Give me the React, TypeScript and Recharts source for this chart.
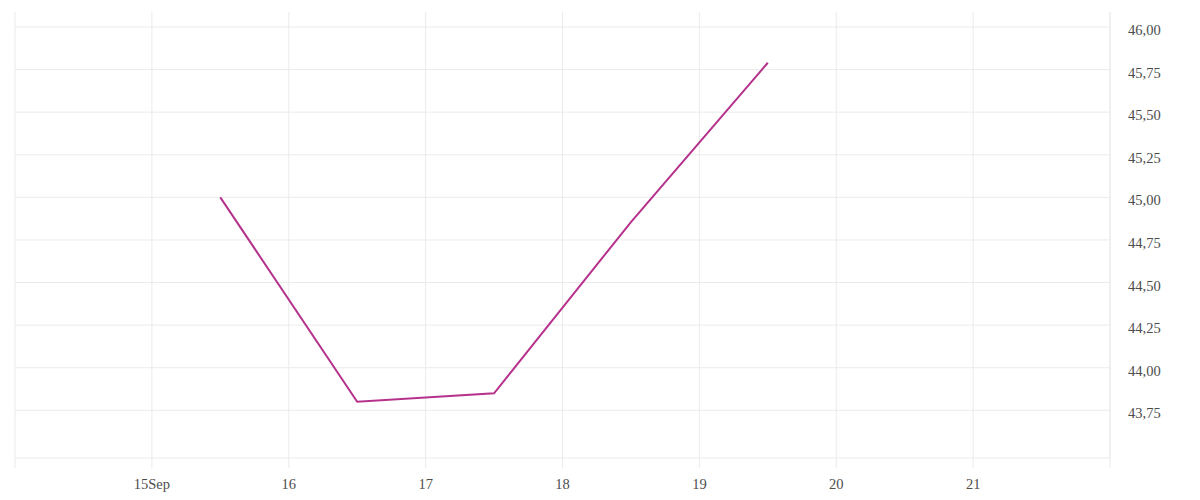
import React from 'react';
import { LineChart, Line, XAxis, YAxis, CartesianGrid, ReferenceLine } from 'recharts';

const days = [15.5, 16.5, 17.5, 18.5, 19.5];
const values = [45.0, 43.8, 43.85, 44.855, 45.79];
const xTicks = [14, 15, 16, 17, 18, 19, 20, 21, 22];
const xTickLabels: Record<number, string> = { 15: '15Sep', 16: '16', 17: '17', 18: '18', 19: '19', 20: '20', 21: '21' };
const yTicks = [43.75, 44.0, 44.25, 44.5, 44.75, 45.0, 45.25, 45.5, 45.75, 46.0];

const data = days.map((d, i) => ({ day: d, value: values[i] }));

const tickStyle = { fontFamily: '"Liberation Serif", serif', fontSize: 14.5, fill: '#4d4d4d' };

export default function App() {
  return (
    <LineChart width={1184} height={484} data={data} margin={{ top: 4, left: 7, right: 0, bottom: 0 }}>
      <CartesianGrid stroke="#ebebeb" strokeWidth={1} horizontal={false} verticalValues={xTicks} />
      {yTicks.map((t) => (
        <ReferenceLine key={t} y={t} stroke="#ebebeb" strokeWidth={1} />
      ))}
      <XAxis
        dataKey="day"
        type="number"
        domain={[14, 22]}
        ticks={xTicks}
        allowDataOverflow
        tickFormatter={(v: number) => xTickLabels[v] ?? ''}
        height={34}
        tickSize={10}
        tickMargin={11}
        axisLine={{ stroke: '#ebebeb' }}
        tickLine={{ stroke: '#ebebeb' }}
        tick={tickStyle}
        interval={0}
      />
      <YAxis
        orientation="right"
        type="number"
        domain={[43.47, 46.088]}
        ticks={yTicks}
        allowDataOverflow
        tickFormatter={(v: number) => v.toFixed(2).replace('.', ',')}
        width={82}
        tickLine={false}
        tickMargin={12}
        axisLine={{ stroke: '#ebebeb' }}
        tick={{ ...tickStyle, textAnchor: 'start', dy: 3 }}
        interval={0}
      />
      <Line
        type="linear"
        dataKey="value"
        stroke="#b5328c"
        strokeWidth={2}
        dot={false}
        isAnimationActive={false}
      />
    </LineChart>
  );
}
